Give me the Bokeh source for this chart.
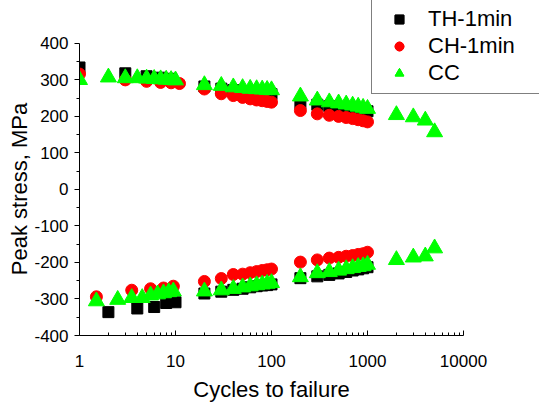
from bokeh.plotting import figure
from bokeh.models import (Legend, LegendItem, FixedTicker, PrintfTickFormatter, Range1d, Title)
from bokeh.embed import file_html
from bokeh.resources import INLINE

# ---- data ----
th_up_x = [1, 3, 5, 7, 9, 20, 30, 40, 50, 60, 70, 80, 90, 100,
           200, 300, 400, 500, 600, 700, 800, 900, 1000]
th_up_y = [334, 318, 310, 306, 303, 282, 276, 272, 269, 267, 265, 263, 262, 261,
           236, 232, 228, 225, 222, 220, 218, 216, 214]
th_lo_x = [2, 4, 6, 8, 10, 20, 30, 40, 50, 60, 70, 80, 90, 100,
           200, 300, 400, 500, 600, 700, 800, 900, 1000]
th_lo_y = [-336, -326, -322, -311, -309, -285, -280, -275, -272, -268, -265, -263, -262, -260,
           -243, -238, -234, -230, -226, -222, -219, -216, -213]

ch_up_x = [1, 3, 5, 7, 9, 11, 20, 30, 40, 50, 60, 70, 80, 90, 100,
           200, 300, 400, 500, 600, 700, 800, 900, 1000]
ch_up_y = [316, 300, 296, 293, 292, 290, 275, 262, 257, 252, 248, 245, 243, 241, 239,
           216, 207, 203, 200, 197, 194, 191, 188, 185]
ch_lo_x = [1.5, 3.5, 5.5, 7.5, 9.5, 20, 30, 40, 50, 60, 70, 80, 90, 100,
           200, 300, 400, 500, 600, 700, 800, 900, 1000]
ch_lo_y = [-294, -276, -272, -270, -265, -252, -244, -233, -232, -228, -225, -222, -220, -218,
           -199, -193, -188, -186, -183, -181, -178, -176, -172]

cc_up_x = [1, 2, 3, 4, 5, 6, 7, 8, 9, 10, 20, 30, 40, 50, 60, 70, 80, 90, 100,
           200, 300, 400, 500, 600, 700, 800, 900, 1000, 2000, 3000, 4000, 5000]
cc_up_y = [300, 307, 305, 305, 304, 303, 302, 301, 300, 299, 286, 284, 280, 278, 276, 275, 274, 273, 272,
           255, 244, 239, 236, 233, 230, 227, 224, 221, 204, 198, 189, 157]
cc_lo_x = [1.5, 2.5, 3.5, 4.5, 5.5, 6.5, 7.5, 8.5, 9.5, 20, 30, 40, 50, 60, 70, 80, 90, 100,
           200, 300, 400, 500, 600, 700, 800, 900, 1000, 2000, 3000, 4000, 5000]
cc_lo_y = [-306, -302, -297, -297, -290, -287, -284, -281, -279, -279, -276, -272, -268, -265, -262, -260, -258, -256,
           -240, -229, -226, -222, -218, -215, -212, -210, -206, -193, -186, -183, -161]

x_ticks = [1, 10, 100, 1000, 10000]
x_minor = [m * d for d in [1, 10, 100, 1000] for m in range(2, 10)]
y_ticks = [-400, -300, -200, -100, 0, 100, 200, 300, 400]
y_minor = [-350, -250, -150, -50, 50, 150, 250, 350]

X_LABEL = "Cycles to failure"
Y_LABEL = "Peak stress, MPa"
FONT = "Liberation Sans"

# geometry: figure is 539x406; axes drawn from x=1..10000 and y=-400..400,
# the frame is extended right/up (invisibly) so the legend is not clipped.
W, H = 539, 406
LEFT, BOTTOM = 79, 70
AX_W, AX_H = 384, 293          # pixel length of the drawn axes
TOP_GAP = H - BOTTOM - AX_H    # space above y=400
RIGHT_GAP = W - LEFT - AX_W    # space right of x=10000
x_hi = 10 ** (4 + 4 * RIGHT_GAP / AX_W)
y_hi = 400 + 800 * TOP_GAP / AX_H

p = figure(width=W, height=H, x_axis_type="log",
           x_range=Range1d(1, x_hi), y_range=Range1d(-400, y_hi),
           output_backend="svg", toolbar_location=None,
           min_border_left=LEFT, min_border_right=0, min_border_top=0, min_border_bottom=BOTTOM)
p.outline_line_color = None
p.xgrid.visible = False
p.ygrid.visible = False
p.background_fill_color = "white"
p.border_fill_color = "white"

r_th1 = p.scatter(th_up_x, th_up_y, marker="square", size=11, color="black")
r_th2 = p.scatter(th_lo_x, th_lo_y, marker="square", size=11, color="black")
r_ch1 = p.scatter(ch_up_x, ch_up_y, marker="circle", size=12, color="#FF0000")
r_ch2 = p.scatter(ch_lo_x, ch_lo_y, marker="circle", size=12, color="#FF0000")
r_cc1 = p.scatter(cc_up_x, cc_up_y, marker="triangle", size=16, color="#00FF00")
r_cc2 = p.scatter(cc_lo_x, cc_lo_y, marker="triangle", size=16, color="#00FF00")

xa = p.xaxis[0]
xa.ticker = FixedTicker(ticks=x_ticks, minor_ticks=x_minor)
xa.formatter = PrintfTickFormatter(format="%d")
xa.bounds = (1, 10000)
ya = p.yaxis[0]
ya.ticker = FixedTicker(ticks=y_ticks, minor_ticks=y_minor)
ya.formatter = PrintfTickFormatter(format="%d")
ya.bounds = (-400, 400)

for ax in (xa, ya):
    ax.axis_line_color = "black"
    ax.major_tick_line_color = "black"
    ax.minor_tick_line_color = "black"
    ax.major_label_text_font = FONT
    ax.major_label_text_font_size = "17px"
    ax.major_label_text_color = "black"

xa.major_tick_in = 5
xa.major_tick_out = 0
xa.minor_tick_in = 3
xa.minor_tick_out = 0
xa.major_label_standoff = 19

ya.major_tick_in = 0
ya.major_tick_out = 5
ya.minor_tick_in = 0
ya.minor_tick_out = 3
ya.major_label_standoff = 6

# axis titles, centred on the drawn axes (not on the extended frame)
x_title_w = 7.113 * 22
y_title_w = 7.835 * 22
xt = Title(text=X_LABEL, align="left", offset=AX_W / 2 - x_title_w / 2,
           text_font=FONT, text_font_size="22px", text_font_style="normal",
           text_color="black", standoff=10)
yt = Title(text=Y_LABEL, align="left", offset=AX_H / 2 - y_title_w / 2,
           text_font=FONT, text_font_size="22px", text_font_style="normal",
           text_color="black", standoff=0)
p.add_layout(xt, "below")
p.add_layout(yt, "left")

legend = Legend(items=[
    LegendItem(label="TH-1min", renderers=[r_th1, r_th2]),
    LegendItem(label="CH-1min", renderers=[r_ch1, r_ch2]),
    LegendItem(label="CC", renderers=[r_cc1, r_cc2]),
], location=(292, H - BOTTOM - 95))
legend.border_line_color = "black"
legend.border_line_width = 1
legend.background_fill_color = "white"
legend.background_fill_alpha = 1
legend.label_text_font = FONT
legend.label_text_font_size = "22px"
legend.label_text_color = "black"
legend.padding = 7
legend.spacing = 0
legend.margin = 0
legend.label_height = 27
legend.glyph_height = 22
legend.glyph_width = 40
legend.label_standoff = 9
legend.label_width = 150
p.add_layout(legend)

open("out.html", "w").write(file_html(p, INLINE))
